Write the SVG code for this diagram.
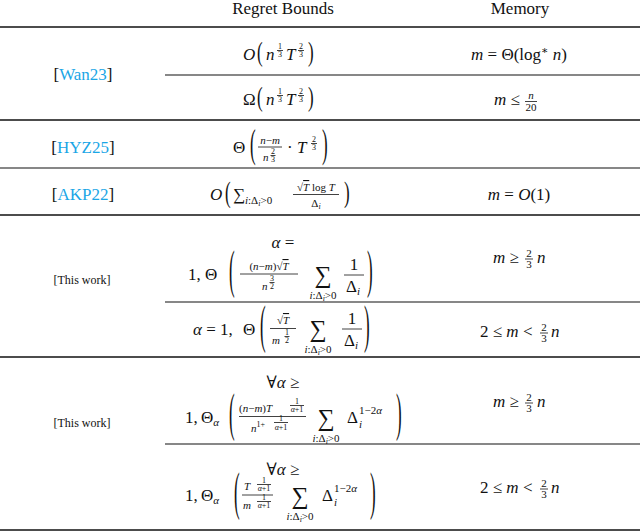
<svg xmlns="http://www.w3.org/2000/svg" width="640" height="532" viewBox="0 0 640 532">
<style>
text{font-family:"Liberation Serif","DejaVu Serif",serif;fill:#111;font-size:17px}
.i{font-style:italic}
.c{text-anchor:middle}
.s{font-size:11px}
.xs{font-size:8px}
.cite{fill:#1aa6e6}
.lb{font-size:12px}
.sg{font-size:24px}
line{stroke:#111}
.fl{stroke-width:0.8}
</style>
<rect width="640" height="532" fill="#fff"/>
<g id="header">
<text class="c" x="283" y="14">Regret Bounds</text>
<text class="c" x="520" y="14">Memory</text>
</g>
<g id="rules">
<line x1="0" y1="27" x2="640" y2="27" stroke-width="1.5"/>
<line x1="165" y1="75" x2="640" y2="75" stroke-width="1.2"/>
<line x1="0" y1="120" x2="640" y2="120" stroke-width="1.5"/>
<line x1="0" y1="168" x2="640" y2="168" stroke-width="1.2"/>
<line x1="0" y1="215" x2="640" y2="215" stroke-width="1.5"/>
<line x1="165" y1="302" x2="640" y2="302" stroke-width="1.2"/>
<line x1="0" y1="357" x2="640" y2="357" stroke-width="1.5"/>
<line x1="165" y1="444" x2="640" y2="444" stroke-width="1.2"/>
<line x1="0" y1="530" x2="640" y2="530" stroke-width="1.5"/>
</g>
<g id="wan23">
<text class="c" x="83" y="80">[<tspan class="cite">Wan23</tspan>]</text>
<text class="i" x="243" y="60">O</text>
<text transform="translate(257,55) scale(1,1.6)" y="4">(</text>
<text class="i" x="266" y="60">n</text>
<text class="xs c" x="280" y="49">1</text><line class="fl" x1="277" y1="50.5" x2="283" y2="50.5"/><text class="xs c" x="280" y="57">3</text>
<text class="i" x="286" y="60">T</text>
<text class="xs c" x="301" y="49">2</text><line class="fl" x1="298" y1="50.5" x2="304" y2="50.5"/><text class="xs c" x="301" y="57">3</text>
<text transform="translate(308,55) scale(1,1.6)" y="4">)</text>
<text class="c" x="519" y="60"><tspan class="i">m</tspan> = Θ(log<tspan class="s" dy="-6">∗</tspan><tspan dy="6"> </tspan><tspan class="i">n</tspan>)</text>
<text x="243" y="105">Ω</text>
<text transform="translate(257,100) scale(1,1.6)" y="4">(</text>
<text class="i" x="266" y="105">n</text>
<text class="xs c" x="280" y="94">1</text><line class="fl" x1="277" y1="95.5" x2="283" y2="95.5"/><text class="xs c" x="280" y="102">3</text>
<text class="i" x="286" y="105">T</text>
<text class="xs c" x="301" y="94">2</text><line class="fl" x1="298" y1="95.5" x2="304" y2="95.5"/><text class="xs c" x="301" y="102">3</text>
<text transform="translate(308,100) scale(1,1.6)" y="4">)</text>
<text x="494" y="105"><tspan class="i">m</tspan> ≤</text>
<text class="s c i" x="531" y="99">n</text><line class="fl" x1="525" y1="101.5" x2="537" y2="101.5"/><text class="s c" x="531" y="111">20</text>
</g>
<g id="hyz25">
<text class="c" x="83" y="153">[<tspan class="cite">HYZ25</tspan>]</text>
<text x="233" y="153">Θ</text>
<text transform="translate(250,148) scale(1,2.3)" y="4">(</text>
<text class="s c" x="270" y="144"><tspan class="i">n</tspan>−<tspan class="i">m</tspan></text>
<line class="fl" x1="258" y1="147" x2="282" y2="147"/>
<text class="s i" x="263" y="161">n</text>
<text class="xs c" x="273" y="154">2</text><line class="fl" x1="270.5" y1="155.5" x2="275.5" y2="155.5"/><text class="xs c" x="273" y="162">3</text>
<text x="287" y="153">· <tspan class="i">T</tspan></text>
<text class="xs c" x="314" y="142">2</text><line class="fl" x1="311" y1="143.5" x2="317" y2="143.5"/><text class="xs c" x="314" y="150">3</text>
<text transform="translate(322,148) scale(1,2.3)" y="4">)</text>
</g>
<g id="akp22">
<text class="c" x="83" y="200">[<tspan class="cite">AKP22</tspan>]</text>
<text class="i" x="210" y="200">O</text>
<text transform="translate(225,195) scale(1,1.7)" y="4">(</text>
<text x="233" y="200">∑</text>
<text class="s" x="245" y="204"><tspan class="i">i</tspan>:Δ<tspan class="xs i" dy="2">i</tspan><tspan dy="-2">&gt;0</tspan></text>
<text class="s c" x="316" y="191">√<tspan style="text-decoration:overline" class="i">T</tspan> log <tspan class="i">T</tspan></text>
<line class="fl" x1="293" y1="194.5" x2="339" y2="194.5"/>
<text class="s c" x="316" y="207">Δ<tspan class="xs i" dy="2">i</tspan></text>
<text transform="translate(344,195) scale(1,1.7)" y="4">)</text>
<text class="c" x="519" y="200"><tspan class="i">m</tspan> = <tspan class="i">O</tspan>(1)</text>
</g>
<g id="thiswork1">
<text class="c lb" x="82" y="284">[This work]</text>
<text class="c" x="283" y="248"><tspan class="i">α</tspan> =</text>
<text x="188" y="280">1,</text>
<text x="205" y="280">Θ</text>
<text transform="translate(229,275) scale(1,3.1)" y="4">(</text>
<text class="s c" x="269" y="270">(<tspan class="i">n</tspan>−<tspan class="i">m</tspan>)√<tspan class="i" style="text-decoration:overline">T</tspan></text>
<line class="fl" x1="240" y1="274" x2="298" y2="274"/>
<text class="s i" x="262" y="290">n</text>
<text class="xs c" x="272" y="281">3</text><line class="fl" x1="269.5" y1="282.5" x2="274.5" y2="282.5"/><text class="xs c" x="272" y="289">2</text>
<text class="sg c" x="323" y="283">∑</text>
<text class="s c" x="323" y="299"><tspan class="i">i</tspan>:Δ<tspan class="xs i" dy="2">i</tspan><tspan dy="-2">&gt;0</tspan></text>
<text class="c" x="354" y="270">1</text>
<line class="fl" x1="344" y1="275" x2="364" y2="275"/>
<text class="c" x="353" y="292">Δ<tspan class="s i" dy="3">i</tspan></text>
<text transform="translate(367,275) scale(1,3.1)" y="4">)</text>
<text x="493" y="263"><tspan class="i">m</tspan> ≥ </text>
<text class="s c" x="529" y="257">2</text><line class="fl" x1="525" y1="259" x2="533" y2="259"/><text class="s c" x="529" y="268">3</text>
<text class="i" x="537" y="263">n</text>
<text x="193" y="335"><tspan class="i">α</tspan> = 1,</text>
<text x="243" y="335">Θ</text>
<text transform="translate(260,330) scale(1,3.1)" y="4">(</text>
<text class="s c" x="283" y="324">√<tspan class="i" style="text-decoration:overline">T</tspan></text>
<line class="fl" x1="270" y1="328.5" x2="296" y2="328.5"/>
<text class="s i" x="272" y="344">m</text>
<text class="xs c" x="287" y="335">1</text><line class="fl" x1="284.5" y1="336.5" x2="289.5" y2="336.5"/><text class="xs c" x="287" y="343">2</text>
<text class="sg c" x="318" y="337">∑</text>
<text class="s c" x="318" y="353"><tspan class="i">i</tspan>:Δ<tspan class="xs i" dy="2">i</tspan><tspan dy="-2">&gt;0</tspan></text>
<text class="c" x="352" y="324">1</text>
<line class="fl" x1="342" y1="329" x2="362" y2="329"/>
<text class="c" x="351" y="346">Δ<tspan class="s i" dy="3">i</tspan></text>
<text transform="translate(364,330) scale(1,3.1)" y="4">)</text>
<text x="480" y="337">2 ≤ <tspan class="i">m</tspan> &lt;</text>
<text class="s c" x="544" y="331">2</text><line class="fl" x1="540" y1="333" x2="548" y2="333"/><text class="s c" x="544" y="342">3</text>
<text class="i" x="551" y="337">n</text>
</g>
<g id="thiswork2">
<text class="c lb" x="82" y="427">[This work]</text>
<text class="c" x="283" y="388">∀<tspan class="i">α</tspan> ≥</text>
<text x="185" y="423">1,</text>
<text x="201" y="423">Θ<tspan class="s i" dy="3">α</tspan></text>
<text transform="translate(229,418) scale(1,3.1)" y="4">(</text>
<text class="s" x="239" y="412">(<tspan class="i">n</tspan>−<tspan class="i">m</tspan>)<tspan class="i">T</tspan></text>
<text class="xs c" x="297" y="404">1</text><line class="fl" x1="290" y1="405.5" x2="304" y2="405.5"/><text class="xs c" x="297" y="412"><tspan class="i">α</tspan>+1</text>
<line class="fl" x1="239" y1="416.5" x2="306" y2="416.5"/>
<text class="s" x="251" y="432"><tspan class="i">n</tspan><tspan class="xs" dy="-5">1+</tspan></text>
<text class="xs c" x="281" y="421">1</text><line class="fl" x1="274" y1="422.5" x2="288" y2="422.5"/><text class="xs c" x="281" y="430"><tspan class="i">α</tspan>+1</text>
<text class="sg c" x="326" y="426">∑</text>
<text class="s c" x="326" y="442"><tspan class="i">i</tspan>:Δ<tspan class="xs i" dy="2">i</tspan><tspan dy="-2">&gt;0</tspan></text>
<text x="347" y="423">Δ</text>
<text class="s i" x="359" y="428">i</text>
<text class="s" x="359" y="414">1−2<tspan class="i">α</tspan></text>
<text transform="translate(396,418) scale(1,3.1)" y="4">)</text>
<text x="493" y="407"><tspan class="i">m</tspan> ≥ </text>
<text class="s c" x="529" y="401">2</text><line class="fl" x1="525" y1="403" x2="533" y2="403"/><text class="s c" x="529" y="412">3</text>
<text class="i" x="537" y="407">n</text>
<text class="c" x="283" y="475">∀<tspan class="i">α</tspan> ≥</text>
<text x="185" y="501">1,</text>
<text x="201" y="501">Θ<tspan class="s i" dy="3">α</tspan></text>
<text transform="translate(234,497) scale(1,3.1)" y="4">(</text>
<text class="s i" x="244" y="490">T</text>
<text class="xs c" x="264" y="483">1</text><line class="fl" x1="257" y1="484.5" x2="271" y2="484.5"/><text class="xs c" x="264" y="491"><tspan class="i">α</tspan>+1</text>
<line class="fl" x1="242" y1="495" x2="273" y2="495"/>
<text class="s i" x="243" y="509">m</text>
<text class="xs c" x="264" y="500">1</text><line class="fl" x1="257" y1="501.5" x2="271" y2="501.5"/><text class="xs c" x="264" y="508"><tspan class="i">α</tspan>+1</text>
<text class="sg c" x="300" y="504">∑</text>
<text class="s c" x="300" y="520"><tspan class="i">i</tspan>:Δ<tspan class="xs i" dy="2">i</tspan><tspan dy="-2">&gt;0</tspan></text>
<text x="322" y="501">Δ</text>
<text class="s i" x="334" y="506">i</text>
<text class="s" x="334" y="492">1−2<tspan class="i">α</tspan></text>
<text transform="translate(370,497) scale(1,3.1)" y="4">)</text>
<text x="480" y="493">2 ≤ <tspan class="i">m</tspan> &lt;</text>
<text class="s c" x="544" y="487">2</text><line class="fl" x1="540" y1="489" x2="548" y2="489"/><text class="s c" x="544" y="498">3</text>
<text class="i" x="551" y="493">n</text>
</g>
</svg>
